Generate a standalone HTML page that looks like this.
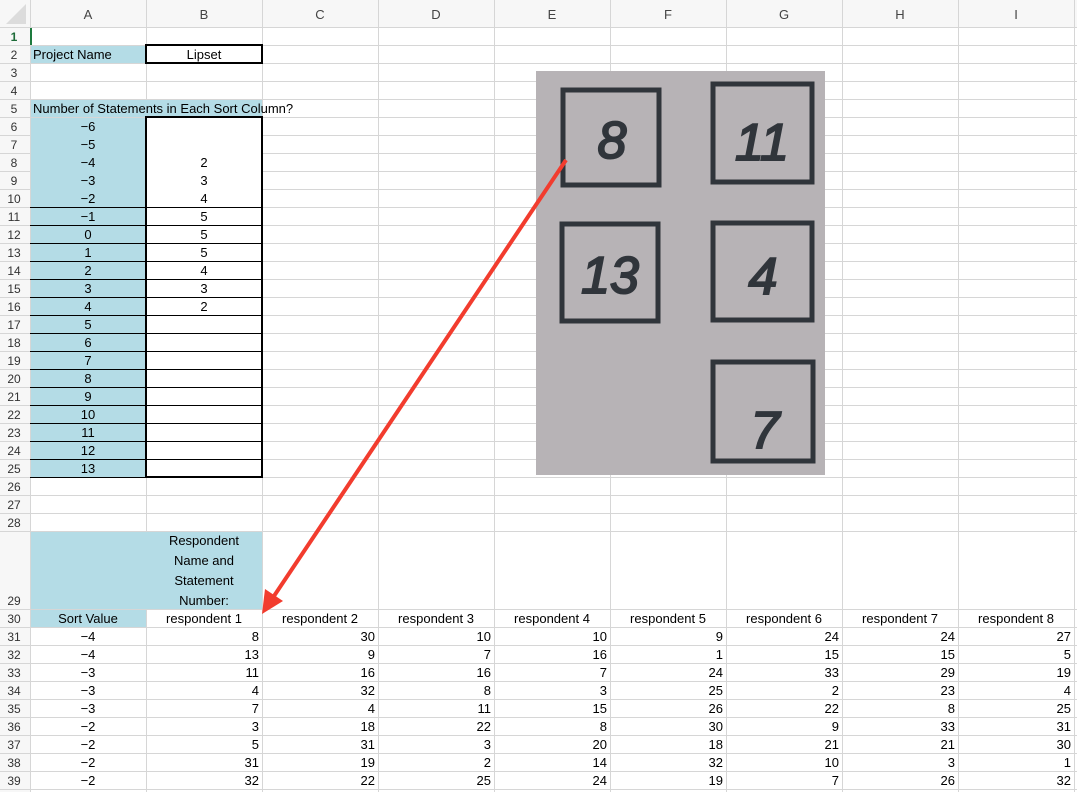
<!DOCTYPE html>
<html><head><meta charset="utf-8"><style>
html,body{margin:0;padding:0;background:#fff;}
svg{display:block;font-family:"Liberation Sans",Arial,sans-serif;}
</style></head><body>
<svg width="1077" height="792" viewBox="0 0 1077 792" xmlns="http://www.w3.org/2000/svg">
<rect width="1077" height="792" fill="#fff"/>
<rect x="0" y="0" width="1077" height="27" fill="#f7f7f7"/>
<rect x="0" y="0" width="30" height="792" fill="#f7f7f7"/>
<polygon points="26,4 26,24 6,24" fill="#dcdcdc"/>
<g fill="#b4dce6">
<rect x="31" y="46" width="114" height="17"/>
<rect x="31" y="99" width="231" height="18"/>
<rect x="31" y="117" width="115" height="360"/>
<rect x="31" y="531" width="231" height="78"/>
<rect x="31" y="609" width="115" height="18"/>
</g>
<g stroke="#d6d6d6" stroke-width="1">
<line x1="30.5" y1="0" x2="30.5" y2="792"/>
<line x1="146.5" y1="0" x2="146.5" y2="792"/>
<line x1="262.5" y1="0" x2="262.5" y2="792"/>
<line x1="378.5" y1="0" x2="378.5" y2="792"/>
<line x1="494.5" y1="0" x2="494.5" y2="792"/>
<line x1="610.5" y1="0" x2="610.5" y2="792"/>
<line x1="726.5" y1="0" x2="726.5" y2="792"/>
<line x1="842.5" y1="0" x2="842.5" y2="792"/>
<line x1="958.5" y1="0" x2="958.5" y2="792"/>
<line x1="1074.5" y1="0" x2="1074.5" y2="792"/>
</g>
<g stroke="#d6d6d6" stroke-width="1">
<line x1="0" y1="27.5" x2="1077" y2="27.5"/><line x1="0" y1="45.5" x2="1077" y2="45.5"/><line x1="0" y1="63.5" x2="1077" y2="63.5"/><line x1="0" y1="81.5" x2="1077" y2="81.5"/><line x1="0" y1="99.5" x2="1077" y2="99.5"/><line x1="0" y1="117.5" x2="1077" y2="117.5"/><line x1="0" y1="135.5" x2="1077" y2="135.5"/><line x1="0" y1="153.5" x2="1077" y2="153.5"/><line x1="0" y1="171.5" x2="1077" y2="171.5"/><line x1="0" y1="189.5" x2="1077" y2="189.5"/><line x1="0" y1="207.5" x2="1077" y2="207.5"/><line x1="0" y1="225.5" x2="1077" y2="225.5"/><line x1="0" y1="243.5" x2="1077" y2="243.5"/><line x1="0" y1="261.5" x2="1077" y2="261.5"/><line x1="0" y1="279.5" x2="1077" y2="279.5"/><line x1="0" y1="297.5" x2="1077" y2="297.5"/><line x1="0" y1="315.5" x2="1077" y2="315.5"/><line x1="0" y1="333.5" x2="1077" y2="333.5"/><line x1="0" y1="351.5" x2="1077" y2="351.5"/><line x1="0" y1="369.5" x2="1077" y2="369.5"/><line x1="0" y1="387.5" x2="1077" y2="387.5"/><line x1="0" y1="405.5" x2="1077" y2="405.5"/><line x1="0" y1="423.5" x2="1077" y2="423.5"/><line x1="0" y1="441.5" x2="1077" y2="441.5"/><line x1="0" y1="459.5" x2="1077" y2="459.5"/><line x1="0" y1="477.5" x2="1077" y2="477.5"/><line x1="0" y1="495.5" x2="1077" y2="495.5"/><line x1="0" y1="513.5" x2="1077" y2="513.5"/><line x1="0" y1="531.5" x2="1077" y2="531.5"/><line x1="0" y1="609.5" x2="1077" y2="609.5"/><line x1="0" y1="627.5" x2="1077" y2="627.5"/><line x1="0" y1="645.5" x2="1077" y2="645.5"/><line x1="0" y1="663.5" x2="1077" y2="663.5"/><line x1="0" y1="681.5" x2="1077" y2="681.5"/><line x1="0" y1="699.5" x2="1077" y2="699.5"/><line x1="0" y1="717.5" x2="1077" y2="717.5"/><line x1="0" y1="735.5" x2="1077" y2="735.5"/><line x1="0" y1="753.5" x2="1077" y2="753.5"/><line x1="0" y1="771.5" x2="1077" y2="771.5"/><line x1="0" y1="789.5" x2="1077" y2="789.5"/>
</g>
<g fill="#b4dce6">
<rect x="31" y="46" width="114" height="17"/>
<rect x="31" y="100" width="231" height="17"/>
<rect x="31" y="118" width="115" height="359"/>
<rect x="31" y="532" width="231" height="77"/>
<rect x="31" y="610" width="115" height="17"/>
</g>
<rect x="147" y="118" width="115" height="359" fill="#fff"/>
<rect x="147" y="610" width="115" height="17" fill="#fff"/>
<g stroke="#000" stroke-width="1">
<line x1="30" y1="207.5" x2="262" y2="207.5"/><line x1="30" y1="225.5" x2="262" y2="225.5"/><line x1="30" y1="243.5" x2="262" y2="243.5"/><line x1="30" y1="261.5" x2="262" y2="261.5"/><line x1="30" y1="279.5" x2="262" y2="279.5"/><line x1="30" y1="297.5" x2="262" y2="297.5"/><line x1="30" y1="315.5" x2="262" y2="315.5"/><line x1="30" y1="333.5" x2="262" y2="333.5"/><line x1="30" y1="351.5" x2="262" y2="351.5"/><line x1="30" y1="369.5" x2="262" y2="369.5"/><line x1="30" y1="387.5" x2="262" y2="387.5"/><line x1="30" y1="405.5" x2="262" y2="405.5"/><line x1="30" y1="423.5" x2="262" y2="423.5"/><line x1="30" y1="441.5" x2="262" y2="441.5"/><line x1="30" y1="459.5" x2="262" y2="459.5"/><line x1="30" y1="477.5" x2="262" y2="477.5"/>
</g>
<rect x="146" y="117" width="116" height="360" fill="none" stroke="#000" stroke-width="2"/>
<rect x="146" y="45" width="116" height="18" fill="none" stroke="#000" stroke-width="2"/>
<line x1="31" y1="28" x2="31" y2="45" stroke="#1d7a3e" stroke-width="2"/>
<g font-size="13" fill="#444" text-anchor="middle">
<text x="88" y="19">A</text><text x="204" y="19">B</text><text x="320" y="19">C</text><text x="436" y="19">D</text><text x="552" y="19">E</text><text x="668" y="19">F</text><text x="784" y="19">G</text><text x="900" y="19">H</text><text x="1016" y="19">I</text>
</g>
<g font-size="12" fill="#333" text-anchor="middle">
<text x="14" y="41" font-weight="bold" fill="#1d6b38">1</text><text x="14" y="59">2</text><text x="14" y="77">3</text><text x="14" y="95">4</text><text x="14" y="113">5</text><text x="14" y="131">6</text><text x="14" y="149">7</text><text x="14" y="167">8</text><text x="14" y="185">9</text><text x="14" y="203">10</text><text x="14" y="221">11</text><text x="14" y="239">12</text><text x="14" y="257">13</text><text x="14" y="275">14</text><text x="14" y="293">15</text><text x="14" y="311">16</text><text x="14" y="329">17</text><text x="14" y="347">18</text><text x="14" y="365">19</text><text x="14" y="383">20</text><text x="14" y="401">21</text><text x="14" y="419">22</text><text x="14" y="437">23</text><text x="14" y="455">24</text><text x="14" y="473">25</text><text x="14" y="491">26</text><text x="14" y="509">27</text><text x="14" y="527">28</text><text x="14" y="605">29</text><text x="14" y="623">30</text><text x="14" y="641">31</text><text x="14" y="659">32</text><text x="14" y="677">33</text><text x="14" y="695">34</text><text x="14" y="713">35</text><text x="14" y="731">36</text><text x="14" y="749">37</text><text x="14" y="767">38</text><text x="14" y="785">39</text>
</g>
<g font-size="13" fill="#000">
<text x="33" y="59">Project Name</text>
<text x="204" y="59" text-anchor="middle">Lipset</text>
<text x="33" y="113">Number of Statements in Each Sort Column?</text>
</g>
<g font-size="13" fill="#000" text-anchor="middle">
<text x="88" y="131">−6</text><text x="88" y="149">−5</text><text x="88" y="167">−4</text><text x="88" y="185">−3</text><text x="88" y="203">−2</text><text x="88" y="221">−1</text><text x="88" y="239">0</text><text x="88" y="257">1</text><text x="88" y="275">2</text><text x="88" y="293">3</text><text x="88" y="311">4</text><text x="88" y="329">5</text><text x="88" y="347">6</text><text x="88" y="365">7</text><text x="88" y="383">8</text><text x="88" y="401">9</text><text x="88" y="419">10</text><text x="88" y="437">11</text><text x="88" y="455">12</text><text x="88" y="473">13</text>
<text x="204" y="167">2</text><text x="204" y="185">3</text><text x="204" y="203">4</text><text x="204" y="221">5</text><text x="204" y="239">5</text><text x="204" y="257">5</text><text x="204" y="275">4</text><text x="204" y="293">3</text><text x="204" y="311">2</text>
<text x="204" y="545">Respondent</text><text x="204" y="565">Name and</text><text x="204" y="585">Statement</text><text x="204" y="605">Number:</text>
<text x="88" y="623">Sort Value</text>
<text x="204" y="623">respondent 1</text><text x="320" y="623">respondent 2</text><text x="436" y="623">respondent 3</text><text x="552" y="623">respondent 4</text><text x="668" y="623">respondent 5</text><text x="784" y="623">respondent 6</text><text x="900" y="623">respondent 7</text><text x="1016" y="623">respondent 8</text>
<text x="88" y="641">−4</text><text x="88" y="659">−4</text><text x="88" y="677">−3</text><text x="88" y="695">−3</text><text x="88" y="713">−3</text><text x="88" y="731">−2</text><text x="88" y="749">−2</text><text x="88" y="767">−2</text><text x="88" y="785">−2</text>
</g>
<g font-size="13" fill="#000" text-anchor="end">
<text x="259" y="641">8</text><text x="375" y="641">30</text><text x="491" y="641">10</text><text x="607" y="641">10</text><text x="723" y="641">9</text><text x="839" y="641">24</text><text x="955" y="641">24</text><text x="1071" y="641">27</text>
<text x="259" y="659">13</text><text x="375" y="659">9</text><text x="491" y="659">7</text><text x="607" y="659">16</text><text x="723" y="659">1</text><text x="839" y="659">15</text><text x="955" y="659">15</text><text x="1071" y="659">5</text>
<text x="259" y="677">11</text><text x="375" y="677">16</text><text x="491" y="677">16</text><text x="607" y="677">7</text><text x="723" y="677">24</text><text x="839" y="677">33</text><text x="955" y="677">29</text><text x="1071" y="677">19</text>
<text x="259" y="695">4</text><text x="375" y="695">32</text><text x="491" y="695">8</text><text x="607" y="695">3</text><text x="723" y="695">25</text><text x="839" y="695">2</text><text x="955" y="695">23</text><text x="1071" y="695">4</text>
<text x="259" y="713">7</text><text x="375" y="713">4</text><text x="491" y="713">11</text><text x="607" y="713">15</text><text x="723" y="713">26</text><text x="839" y="713">22</text><text x="955" y="713">8</text><text x="1071" y="713">25</text>
<text x="259" y="731">3</text><text x="375" y="731">18</text><text x="491" y="731">22</text><text x="607" y="731">8</text><text x="723" y="731">30</text><text x="839" y="731">9</text><text x="955" y="731">33</text><text x="1071" y="731">31</text>
<text x="259" y="749">5</text><text x="375" y="749">31</text><text x="491" y="749">3</text><text x="607" y="749">20</text><text x="723" y="749">18</text><text x="839" y="749">21</text><text x="955" y="749">21</text><text x="1071" y="749">30</text>
<text x="259" y="767">31</text><text x="375" y="767">19</text><text x="491" y="767">2</text><text x="607" y="767">14</text><text x="723" y="767">32</text><text x="839" y="767">10</text><text x="955" y="767">3</text><text x="1071" y="767">1</text>
<text x="259" y="785">32</text><text x="375" y="785">22</text><text x="491" y="785">25</text><text x="607" y="785">24</text><text x="723" y="785">19</text><text x="839" y="785">7</text><text x="955" y="785">26</text><text x="1071" y="785">32</text>
</g>
<rect x="536" y="71" width="289" height="404" fill="#b7b3b6"/>
<g fill="none" stroke="#30353b" stroke-width="5">
<rect x="563" y="90" width="96" height="95"/>
<rect x="713" y="84" width="99" height="98"/>
<rect x="562" y="224" width="96" height="97"/>
<rect x="713" y="223" width="99" height="97"/>
<rect x="713" y="362" width="100" height="99"/>
</g>
<g fill="#30353b" stroke="#30353b" stroke-width="2" font-size="52" text-anchor="middle" font-style="italic">
<text x="612" y="158">8</text>
<text x="762" y="160">11</text>
<text x="610" y="293">13</text>
<text x="763" y="294">4</text>
<text x="765" y="448">7</text>
</g>
<line x1="566" y1="160" x2="272" y2="599" stroke="#f23c2e" stroke-width="4"/>
<polygon points="262,614 283,601 265,589" fill="#f23c2e"/>
</svg>
</body></html>
